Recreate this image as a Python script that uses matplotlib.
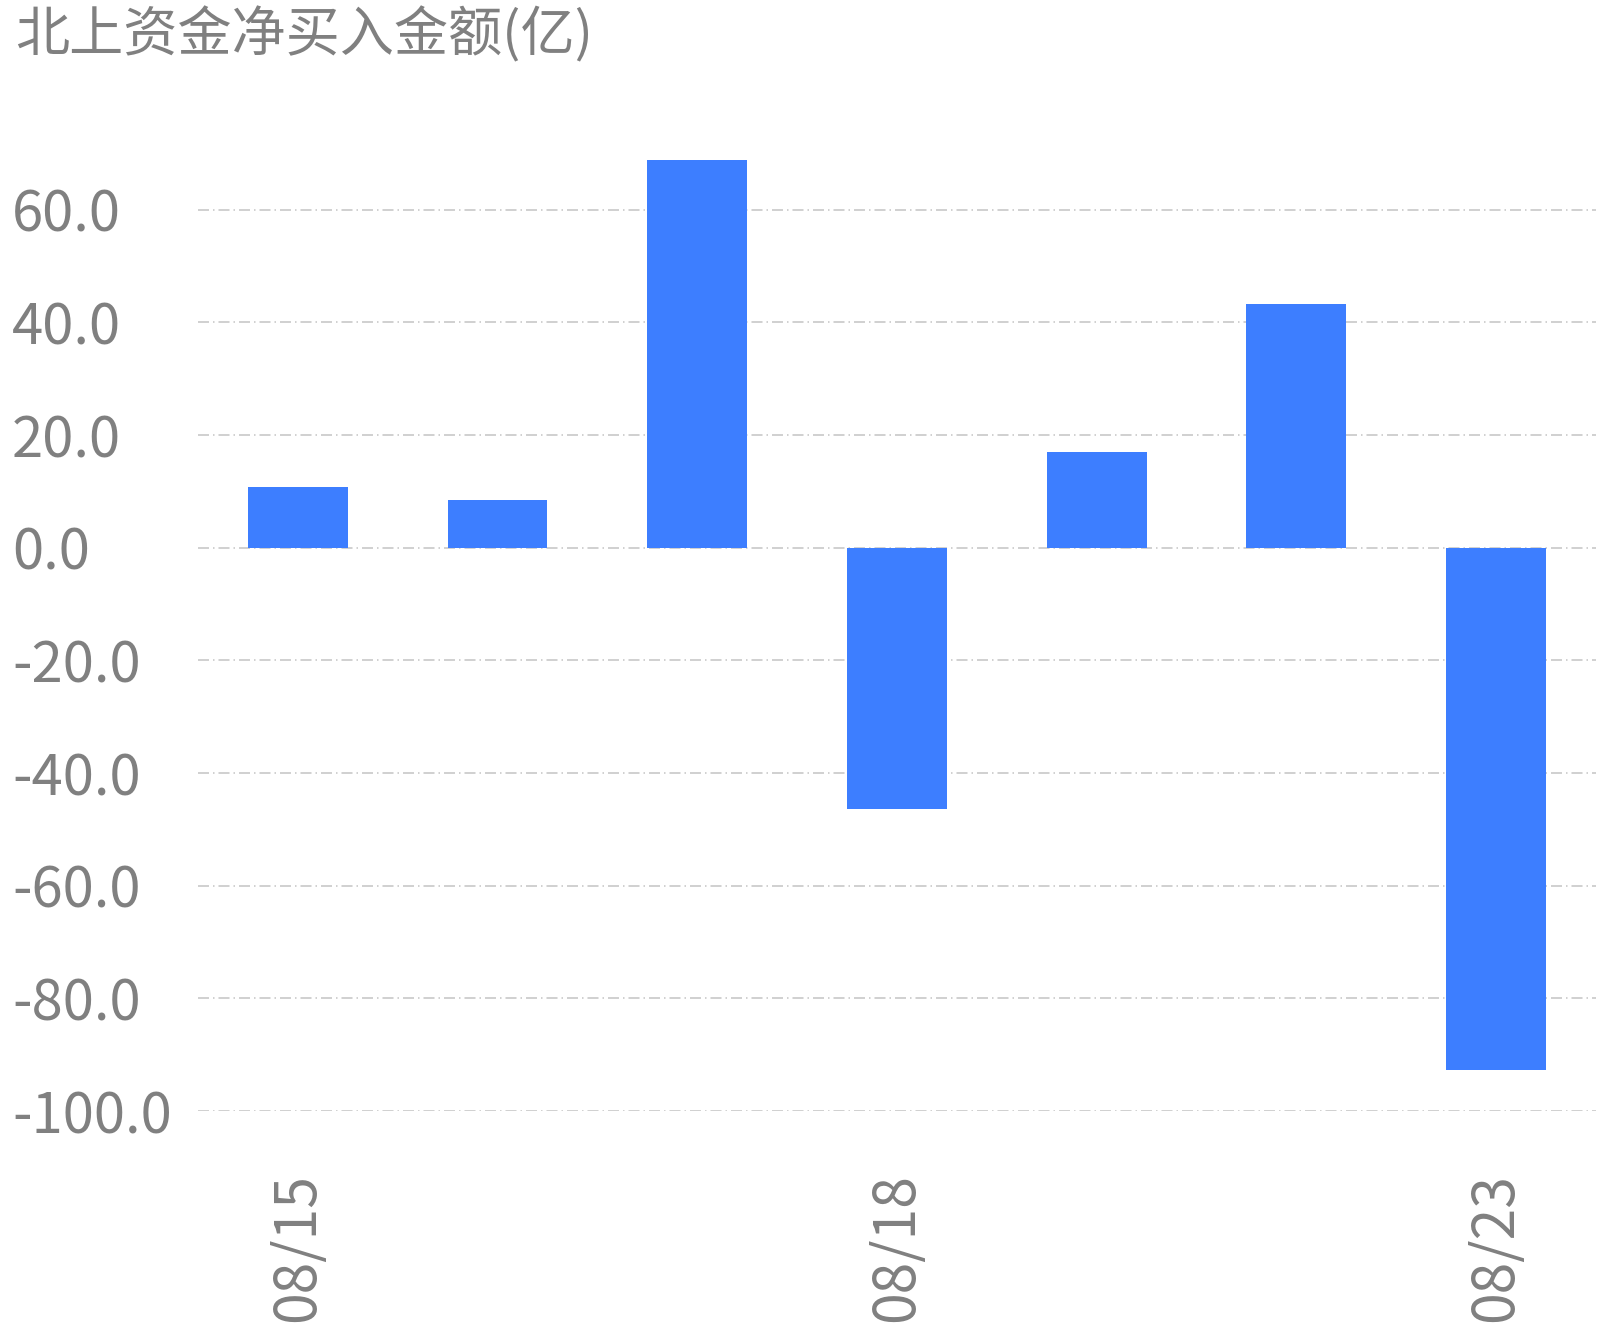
import matplotlib
matplotlib.use("Agg")
import matplotlib.pyplot as plt

plt.rcParams['font.family'] = ['Noto Sans CJK SC', 'DejaVu Sans']

dates = ["08/15", "08/16", "08/17", "08/18", "08/21", "08/22", "08/23"]
net_buy = [10.8, 8.5, 68.9, -46.4, 17.0, 43.2, -92.7]
shown_labels = ["08/15", "08/18", "08/23"]
yticks = [-100, -80, -60, -40, -20, 0, 20, 40, 60]

gray = "#808080"
bar_color = "#3D7EFF"

fig = plt.figure(figsize=(16.06, 13.30), dpi=100)
ax = fig.add_axes([198 / 1606, 1 - 1111 / 1330, (1596 - 198) / 1606, (1111 - 97) / 1330])

x = list(range(len(dates)))
ax.bar(x, net_buy, width=0.5, color=bar_color, zorder=2)
ax.set_xlim(-0.5, len(dates) - 0.5)
ax.set_ylim(-100, 80)

ax.set_yticks(yticks)
ax.set_yticklabels([f"{v:.1f}" for v in yticks], ha="left")
# dash-dot grid
ax.yaxis.grid(True, color="#C8C8C8", linestyle=(0, (6.6, 2.4, 0.9, 2.4)), linewidth=1.2, zorder=1)
ax.tick_params(axis="y", length=0, pad=134, labelsize=40.5, labelcolor=gray)

ax.set_xticks(x)
ax.set_xticklabels([d if d in shown_labels else "" for d in dates], rotation=90)
ax.tick_params(axis="x", length=0, pad=45, labelsize=41, labelcolor=gray)

for s in ax.spines.values():
    s.set_visible(False)

fig.text(15 / 1606, 1 - 35 / 1330, "北上资金净买入金额(亿)", fontsize=39, color=gray,
         ha="left", va="center")

fig.savefig("out.png", dpi=100, facecolor="white")
